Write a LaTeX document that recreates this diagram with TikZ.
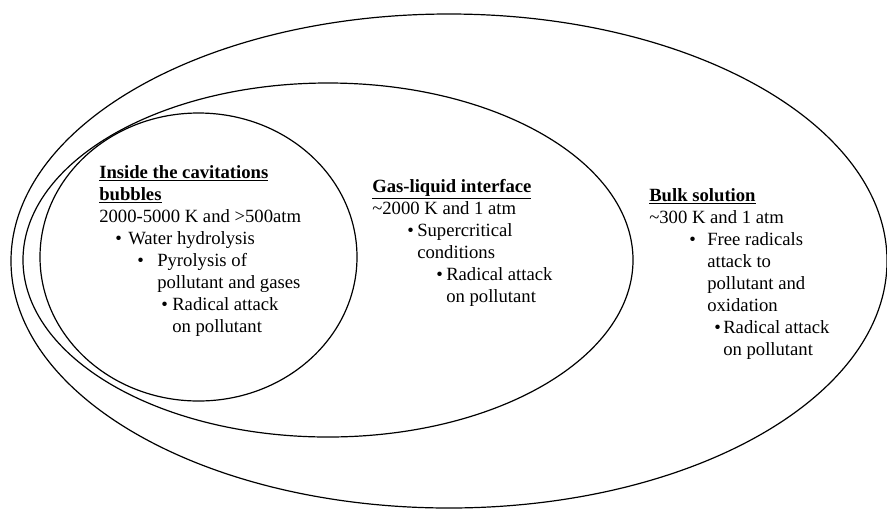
\documentclass[tikz,border=0pt]{standalone}
\usepackage{fontspec}
\setmainfont{Liberation Serif}

% bullet with indent and box width
\newcommand{\itm}[2]{\hspace*{#1}\makebox[#2][l]{\textbullet}}

\begin{document}
\begin{tikzpicture}[
    x=0.75pt, y=-0.75pt,
    zone/.style={draw=black, line width=0.9pt},
    blk/.style={
        anchor=base west, align=left, inner sep=0pt,
        font=\fontsize{14}{16.5}\selectfont
    }
]
\useasboundingbox (0,0) rectangle (887,508);

% --- zones ---
\draw[zone] (449,261) ellipse (438 and 247);
\draw[zone] (328,260) ellipse (305 and 177);
\draw[zone] (198.5,257) ellipse (158.5 and 144);

% --- inside the bubbles (anchored at last baseline) ---
\node[blk] (bubble) at (99,332) {%
    \underline{\textbf{Inside the cavitations}}\\
    \underline{\textbf{bubbles}}\\
    2000-5000 K and >500atm\\
    \itm{12pt}{9.75pt}Water hydrolysis\\
    \itm{28.5pt}{15pt}Pyrolysis of\\
    \hspace*{43.5pt}pollutant and gases\\
    \itm{46.5pt}{8.25pt}Radical attack\\
    \hspace*{54.75pt}on pollutant};

% --- interface ---
\node[blk] (interface) at (372,302) {%
    \underline{\textbf{Gas-liquid interface}}\\
    \textasciitilde2000 K and 1 atm\\
    \itm{26.25pt}{7.5pt}Supercritical\\
    \hspace*{33.75pt}conditions\\
    \itm{48pt}{7.5pt}Radical attack\\
    \hspace*{55.5pt}on pollutant};

% --- bulk ---
\node[blk] (bulk) at (649,355) {%
    \underline{\textbf{Bulk solution}}\\
    \textasciitilde300 K and 1 atm\\
    \itm{30pt}{13.5pt}Free radicals\\
    \hspace*{43.5pt}attack to\\
    \hspace*{43.5pt}pollutant and\\
    \hspace*{43.5pt}oxidation\\
    \itm{48.75pt}{6.75pt}Radical attack\\
    \hspace*{55.5pt}on pollutant};

\end{tikzpicture}
\end{document}
